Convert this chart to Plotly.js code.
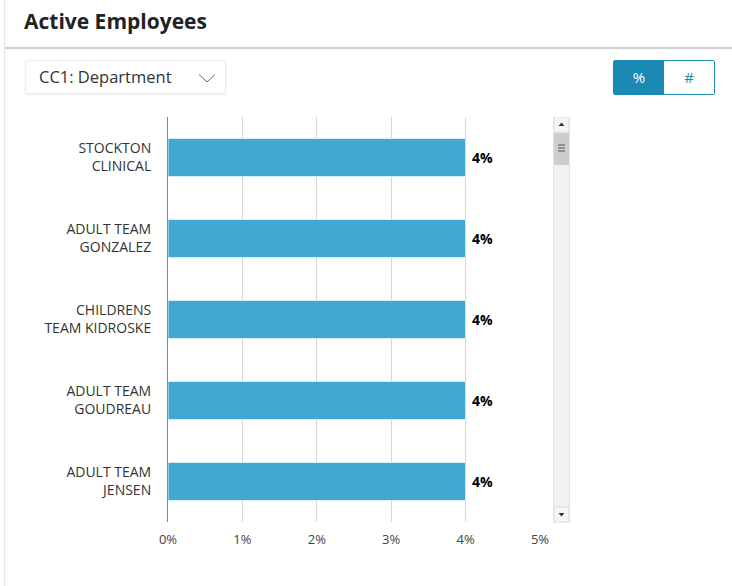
<!DOCTYPE html>
<html>
<head>
<meta charset="utf-8">
<script src="https://cdn.plot.ly/plotly-3.0.1.min.js"></script>
<style>
  html, body { margin:0; padding:0; width:732px; height:586px; overflow:hidden; background:#fff; font-family:"Open Sans", sans-serif; }
  #card { position:absolute; left:4px; top:-2px; width:740px; height:600px; border-left:1px solid #e6e6e6; border-top:1px solid #e6e6e6; background:#fff; }
  #title { position:absolute; left:24px; top:7px; font-size:21px; font-weight:700; color:#222; }
  #rule { position:absolute; left:5px; top:47px; width:727px; height:2px; background:#d0d0d0; }
  #dropdown { position:absolute; left:25px; top:60px; width:201px; height:34px; border:1px solid #ececec; border-radius:3px; box-sizing:border-box; font-size:16.5px; color:#333; line-height:32px; padding-left:13px; box-shadow:0 1px 2px rgba(0,0,0,0.08); }
  #dropdown svg { position:absolute; right:9px; top:12px; }
  #toggle { position:absolute; left:613px; top:60px; width:102px; height:35px; border:1px solid #1a8ab4; border-radius:2px; box-sizing:border-box; display:flex; }
  #toggle div { flex:1; text-align:center; line-height:33px; font-size:15px; }
  #pct { background:#1a8ab4; color:#fff; }
  #num { background:#fff; color:#1a8ab4; }
  #scroll { position:absolute; left:553px; top:117px; width:17px; height:406px; background:#f1f1f1; border-left:1px solid #e4e4e4; border-right:1px solid #e4e4e4; box-sizing:border-box; }
  #plot { position:absolute; left:0; top:0; width:732px; height:586px; }
</style>
</head>
<body>
<div id="card"></div>
<div id="title">Active Employees</div>
<div id="rule"></div>
<div id="dropdown">CC1: Department
  <svg width="18" height="11" viewBox="0 0 18 11"><polyline points="1,1.5 9,9 17,1.5" fill="none" stroke="#666" stroke-width="1"/></svg>
</div>
<div id="toggle"><div id="pct">%</div><div id="num">#</div></div>
<div id="plot"></div>
<div id="scroll">
  <svg width="15" height="406" style="position:absolute;left:0;top:0">
    <rect x="0" y="0" width="15" height="15" fill="#f6f6f6" stroke="#dcdcdc"/>
    <polygon points="4.5,9 10.5,9 7.5,5.5" fill="#333"/>
    <rect x="0" y="16" width="15" height="32" fill="#cdcdcd"/>
    <line x1="4" y1="28" x2="11" y2="28" stroke="#555"/>
    <line x1="4" y1="31" x2="11" y2="31" stroke="#555"/>
    <line x1="4" y1="34" x2="11" y2="34" stroke="#555"/>
    <rect x="0" y="390" width="15" height="15" fill="#f6f6f6" stroke="#dcdcdc"/>
    <polygon points="4.5,396 10.5,396 7.5,399.5" fill="#333"/>
  </svg>
</div>
<script>
const categories = [
  "STOCKTON<br>CLINICAL",
  "ADULT TEAM<br>GONZALEZ",
  "CHILDRENS<br>TEAM KIDROSKE",
  "ADULT TEAM<br>GOUDREAU",
  "ADULT TEAM<br>JENSEN"
];
const percentValues = [4, 4, 4, 4, 4];
const valueLabels = percentValues.map(v => v + "%");

const trace = {
  type: "bar",
  orientation: "h",
  y: categories,
  x: percentValues,
  marker: { color: "#42a8d2", line: { color: "#d9eef7", width: 1 } },
  hoverinfo: "none"
};

const annotations = categories.map((c, i) => ({
  x: percentValues[i],
  y: c,
  xref: "x",
  yref: "y",
  text: valueLabels[i],
  showarrow: false,
  xanchor: "left",
  xshift: 4,
  font: { family: "Open Sans", size: 14, color: "#000", weight: 700 }
}));

const layout = {
  width: 732, height: 586,
  margin: { l: 168, r: 192, t: 117, b: 64, pad: 0 },
  paper_bgcolor: "rgba(0,0,0,0)",
  plot_bgcolor: "rgba(0,0,0,0)",
  showlegend: false,
  bargap: 0.53,
  annotations: annotations,
  font: { family: "Open Sans", size: 13, color: "#444" },
  xaxis: {
    range: [0, 5],
    dtick: 1,
    ticksuffix: "%",
    showgrid: true,
    gridcolor: "#d6d6d6",
    gridwidth: 1,
    zeroline: false,
    showline: false,
    ticks: "",
    ticklabelstandoff: 8,
    tickfont: { family: "Open Sans", size: 13, color: "#444" },
    fixedrange: true
  },
  yaxis: {
    autorange: "reversed",
    showline: true,
    linecolor: "#888",
    linewidth: 1,
    showgrid: false,
    ticks: "",
    ticklabelstandoff: 13,
    tickfont: { family: "Open Sans", size: 14, color: "#333" },
    fixedrange: true
  }
};

Plotly.newPlot("plot", [trace], layout, { displayModeBar: false, staticPlot: true });
</script>
</body>
</html>
